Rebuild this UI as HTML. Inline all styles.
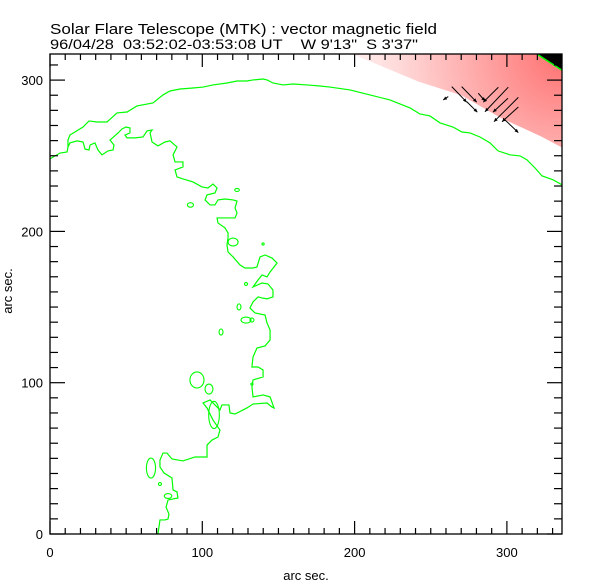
<!DOCTYPE html>
<html><head><meta charset="utf-8">
<style>
html,body{margin:0;padding:0;background:#fff;}
svg{display:block;font-family:"Liberation Sans",sans-serif;}
</style></head>
<body>
<svg id="chart" width="612" height="585" viewBox="0 0 612 585" xmlns="http://www.w3.org/2000/svg">
<defs>
<radialGradient id="rg" cx="562" cy="54" r="220" gradientUnits="userSpaceOnUse">
<stop offset="0" stop-color="#ff7070"/>
<stop offset="0.4" stop-color="#ffaaaa"/>
<stop offset="0.75" stop-color="#ffdada"/>
<stop offset="1" stop-color="#fff4f4"/>
</radialGradient>
<clipPath id="plotclip"><rect x="50" y="54" width="512" height="480"/></clipPath>
</defs>
<text x="50" y="34" font-size="15" textLength="387" lengthAdjust="spacingAndGlyphs">Solar Flare Telescope (MTK) : vector magnetic field</text>
<text x="50" y="49" font-size="13.5" textLength="368" lengthAdjust="spacingAndGlyphs" xml:space="preserve">96/04/28  03:52:02-03:53:08 UT    W 9'13"  S 3'37"</text>
<g id="plot" clip-path="url(#plotclip)"></g>
<g id="axes"></g>
<text x="306" y="580" font-size="13" text-anchor="middle">arc sec.</text>
<text x="0" y="0" font-size="13" text-anchor="middle" transform="translate(12,291) rotate(-90)">arc sec.</text>
</svg>
<script>
// x / y in arc seconds
const mainX=[70.9,72.2,75.5,77.5,78.1,76.2,77.5,84.0,83.4,80.8,80.1,74.9,72.2,72.2,74.2,76.8,80.1,87.3,95.2,103.1,103.1,106.4,110.3,111.6,107.0,103.1,100.5,105.1,111.6,112.9,117.5,118.2,121.5,129.3,133.3,142.5,145.8,147.1,144.5,139.9,133.3,132.6,133.3,139.9,139.9,136.6,132.6,133.3,135.9,141.2,144.5,144.5,142.5,141.2,134.6,131.3,133.3,136.6,139.2,142.5,146.4,146.4,143.1,139.2,133.3,136.6,139.2,142.5,144.5,149.1,145.8,141.2,137.9,135.9,133.3,128.0,124.8,120.2,116.9,116.2,116.9,116.9,114.9,110.3,109.7,114.9,121.5,122.8,121.5,122.8,120.2,114.9,110.3,108.3,105.1,101.8,103.1,108.3,109.7,107.0,103.7,99.8,93.9,87.3,83.4,82.1,87.3,87.3,82.1,80.8,83.4,78.8,75.5,70.9,67.0,65.7,67.0,63.7,61.1,55.8,50.6,49.2,52.5,52.5,49.9,47.3,44.7,39.4,42.0,41.4,38.1,34.1,31.5,29.5,26.3,25.6,23.0,21.7,17.7,13.1,11.8,11.2,6.6,2.0,0];
const mainY=[0,9.3,9.3,9.9,13.2,17.8,22.5,23.8,27.8,29.1,37.0,40.3,44.3,48.9,53.5,53.5,49.6,48.3,50.9,50.9,58.8,62.1,64.1,68.7,75.4,83.3,86.6,88.6,82.0,85.3,85.3,80.0,79.3,83.3,85.9,86.6,83.9,83.3,90.6,91.9,90.6,97.2,101.8,103.8,108.4,110.4,110.4,117.0,122.9,124.3,128.2,134.8,139.5,144.7,146.1,149.4,153.4,156.7,156.0,155.4,156.7,161.3,165.3,165.9,163.3,167.9,171.2,169.9,173.2,179.1,182.4,184.4,183.1,176.5,175.8,175.8,177.8,183.1,186.4,191.0,195.7,199.0,202.3,205.6,208.9,208.9,208.9,212.2,215.5,220.1,220.8,221.4,220.8,217.5,217.5,220.8,224.1,225.4,228.7,231.3,228.7,229.4,232.7,234.7,236.0,240.6,242.6,245.9,245.9,250.6,255.8,259.8,259.1,256.5,259.1,265.1,267.0,266.4,262.4,261.8,261.8,263.7,265.1,268.4,269.0,267.7,265.1,260.4,257.1,253.8,253.2,250.6,253.8,258.5,257.1,253.8,254.4,259.1,259.8,258.5,255.8,252.5,251.8,249.2,247.9];
const limbX=[11.8,11.8,13.1,21.7,25.6,30.9,37.4,44.0,50.6,57.1,67.6,74.2,78.8,85.4,93.9,100.5,107.0,116.2,122.8,129.3,133.3,139.9,142.5,146.4,153.0,159.6,168.7,177.3,183.8,197.0,210.1,223.2,236.4,242.9,249.5,256.1,264.6,270.5,275.8,282.3,288.9,294.2,302.0,308.6,313.2,318.4,323.0,330.3,336.2];
const limbY=[255.8,260.4,263.7,269.0,273.0,272.3,272.3,278.3,278.9,282.9,284.9,290.2,292.8,294.1,294.8,295.4,296.8,298.1,299.4,299.4,300.1,300.7,300.1,298.1,296.8,297.4,296.8,296.1,295.4,293.5,290.2,286.9,281.6,277.6,276.3,271.7,269.0,265.7,265.1,262.4,258.5,253.2,250.6,249.9,247.3,242.0,236.7,234.1,230.8];
// small contour islands: centre and radii in arc seconds
const islandX=[92.2,122.8,120.2,139.9,128.7,124.1,128.7,132.6,112.3,96.5,104.4,107.7,66.3,72.2,77.5,132.6];
const islandY=[217.5,227.4,193.0,191.7,165.3,150.1,141.4,141.4,133.5,101.8,95.8,78.7,43.6,33.0,25.1,99.1];
const islandRX=[2,1.5,3.3,0.7,1,1.3,3.3,1.3,1.3,4.6,2.6,3.5,3,1,2.5,0.7];
const islandRY=[1.5,1,2.6,0.7,1,2,2,1.3,2,5.3,3.3,9,6.6,1,1.6,0.7];
// transverse field vectors (arc sec) start -> end
const vecX0=[261.5,263.8,270.3,273.6,281.2,294.4,300.9,307.5,307.5,297.6,300.7];
const vecY0=[289.1,295.7,295.7,285.8,291.3,295.3,295.3,288.6,282.2,274.8,288.0];
const vecX1=[258.2,273.6,280.2,280.6,285.6,284.5,285.6,291.5,296.8,307.5,290.9];
const vecY1=[286.9,285.4,285.4,278.8,286.2,285.4,279.1,272.5,272.5,265.3,278.8];
const xTicks=[0,100,200,300];
const yTicks=[0,100,200,300];

const X0=50,Y0=534,SX=1.523,SY=1.513;
const sx=v=>X0+v*SX, sy=v=>Y0-v*SY;
const NS="http://www.w3.org/2000/svg";
const plot=document.getElementById('plot'), axes=document.getElementById('axes');
function mk(tag,attrs,parent){const e=document.createElementNS(NS,tag);for(const k in attrs)e.setAttribute(k,attrs[k]);parent.appendChild(e);return e;}

// field strength shading (top-right)
const shade=mk('polygon',{points:[[sx(199),sy(317)],[sx(242),sy(299)],[sx(270),sy(290)],[sx(296),sy(275)],[sx(322),sy(263)],[sx(337),sy(255)],[sx(337),sy(317)]].map(p=>p.join(',')).join(' '),fill:'url(#rg)'},plot);


const corner=mk('polygon',{points:`${sx(320)},${sy(317)} ${sx(337)},${sy(317)} ${sx(337)},${sy(306)}`,fill:'#000'},plot);


const cedge=mk('line',{x1:sx(320),y1:sy(317),x2:sx(337),y2:sy(306),stroke:'#00ff00','stroke-width':1.5},plot);



function poly(xs,ys,name){
  const pl=mk('polyline',{points:xs.map((x,i)=>sx(x)+','+sy(ys[i])).join(' '),fill:'none',stroke:'#00ff00','stroke-width':1.2},plot);
  
  
}
poly(mainX,mainY,'neutral-line-contour');
poly(limbX,limbY,'solar-limb-contour');
islandX.forEach((x,i)=>{
  const e=mk('ellipse',{cx:sx(x),cy:sy(islandY[i]),rx:islandRX[i]*SX,ry:islandRY[i]*SY,fill:'none',stroke:'#00ff00','stroke-width':1.1},plot);
  
  
});
vecX0.forEach((x,i)=>{
  const x1=sx(x),y1=sy(vecY0[i]),x2=sx(vecX1[i]),y2=sy(vecY1[i]);
  const g=mk('g',{},plot);
  
  
  mk('line',{x1,y1,x2,y2,stroke:'#000','stroke-width':1},g);
  const a=Math.atan2(y2-y1,x2-x1),h=4;
  mk('polygon',{points:`${x2},${y2} ${x2-h*Math.cos(a-0.45)},${y2-h*Math.sin(a-0.45)} ${x2-h*Math.cos(a+0.45)},${y2-h*Math.sin(a+0.45)}`,fill:'#000'},g);
});

// frame
const frame=mk('rect',{x:50,y:54,width:512,height:480,fill:'none',stroke:'#000','stroke-width':1.3},axes);


for(let v=0;v<=336;v+=10){
  const maj=v%100===0, x=sx(v);
  mk('line',{x1:x,y1:534,x2:x,y2:534-(maj?13:6),stroke:'#000','stroke-width':1.2},axes);
  mk('line',{x1:x,y1:54,x2:x,y2:54+(maj?13:6),stroke:'#000','stroke-width':1.2},axes);
}
for(let v=0;v<=317;v+=10){
  const maj=v%100===0, y=sy(v);
  mk('line',{x1:50,y1:y,x2:50+(maj?15:8),y2:y,stroke:'#000','stroke-width':1.2},axes);
  mk('line',{x1:562,y1:y,x2:562-(maj?15:8),y2:y,stroke:'#000','stroke-width':1.2},axes);
}
xTicks.forEach(v=>{
  const t=mk('text',{x:sx(v),y:557,'font-size':13,'text-anchor':'middle'},axes);
  t.textContent=v;
  
  
});
yTicks.forEach(v=>{
  const t=mk('text',{x:43,y:sy(v)+5,'font-size':13,'text-anchor':'end'},axes);
  t.textContent=v;
  
  
});
</script>
</body></html>
